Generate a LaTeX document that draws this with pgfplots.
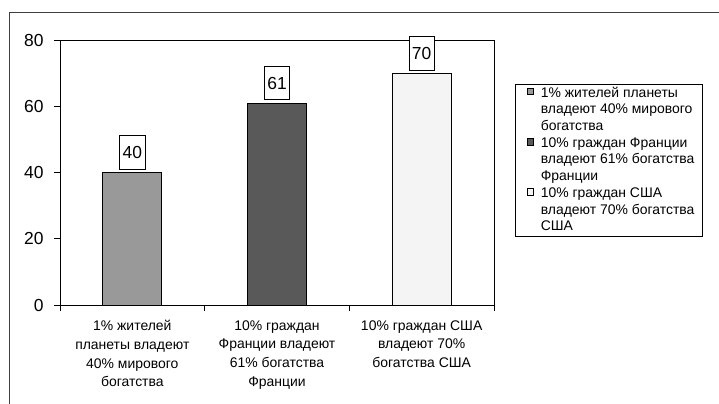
\documentclass[border=0pt]{standalone}
\usepackage{pgfplots}
\pgfplotsset{compat=1.18}
\usepackage{fontspec}
\setmainfont{Liberation Sans}
\definecolor{barA}{HTML}{999999}
\definecolor{barB}{HTML}{595959}
\definecolor{barC}{HTML}{F4F4F4}
\definecolor{frameC}{HTML}{404040}
\pgfplotsset{sq/.style={legend image code/.code={\path (-7bp,0bp) (9.6bp,0bp);\draw[##1,draw=black,line width=0.6bp] (0bp,-1bp) rectangle (6.6bp,5.6bp);}}}
\begin{document}
\begin{tikzpicture}[x=1bp,y=1bp]
\path[use as bounding box] (0,0) rectangle (719,403);
\draw[frameC, line width=1.3bp] (9.5,-10) -- (9.5,390.3) -- (730,390.3);
\begin{axis}[
 at={(60bp,98bp)}, anchor=south west,
 scale only axis, width=434bp, height=265bp,
 xmin=-0.5, xmax=2.5, ymin=0, ymax=80,
 ytick={0,20,40,60,80},
 xtick={-0.5,0.5,1.5,2.5}, xticklabels={,,,},
 extra x ticks={0,1,2},
 extra x tick labels={{1\% жителей\\планеты владеют\\40\% мирового\\богатства},{10\% граждан\\Франции владеют\\61\% богатства\\Франции},{10\% граждан США\\владеют 70\%\\богатства США}},
 extra x tick style={major tick length=0pt},
 tick align=outside, tick pos=left, major tick length=6bp,
 axis line style={line width=0.8bp},
 tick style={line width=0.8bp, black},
 /pgf/number format/assume math mode=true,
 yticklabel style={font=\fontsize{17.5}{20}\selectfont, xshift=-7bp},
 xticklabel style={font=\fontsize{14}{18.7}\selectfont, align=center, yshift=-12bp},
 clip=false,
 nodes near coords,
 every node near coord/.append style={draw=black, fill=white, line width=0.6bp,
   font=\fontsize{17.5}{20}\selectfont, inner xsep=3bp, inner ysep=10.5bp,
   text height=12.6bp, text depth=0bp, anchor=south, yshift=3bp},
 legend style={at={(1.0484,0.834)}, anchor=north west, draw=black, line width=0.8bp,
   font=\fontsize{14}{16}\selectfont, inner xsep=4bp, inner ysep=1bp,
   nodes={inner xsep=4bp, inner ysep=1.75bp, text height=10bp, text depth=3.2bp},
   cells={anchor=west}, row sep=0pt},
 legend cell align=left,
]
\addplot[ybar, bar width=59bp, bar shift=0pt, fill=barA, draw=black, line width=0.8bp, sq] coordinates {(0,40)};
\addlegendentry{1\% жителей планеты}
\addlegendimage{empty legend}\addlegendentry{владеют 40\% мирового}
\addlegendimage{empty legend}\addlegendentry{богатства}
\addplot[ybar, bar width=59bp, bar shift=0pt, fill=barB, draw=black, line width=0.8bp, sq] coordinates {(1,61)};
\addlegendentry{10\% граждан Франции}
\addlegendimage{empty legend}\addlegendentry{владеют 61\% богатства}
\addlegendimage{empty legend}\addlegendentry{Франции}
\addplot[ybar, bar width=59bp, bar shift=0pt, fill=barC, draw=black, line width=0.8bp, sq] coordinates {(2,70)};
\addlegendentry{10\% граждан США}
\addlegendimage{empty legend}\addlegendentry{владеют 70\%  богатства}
\addlegendimage{empty legend}\addlegendentry{США}
\end{axis}
\end{tikzpicture}
\end{document}
